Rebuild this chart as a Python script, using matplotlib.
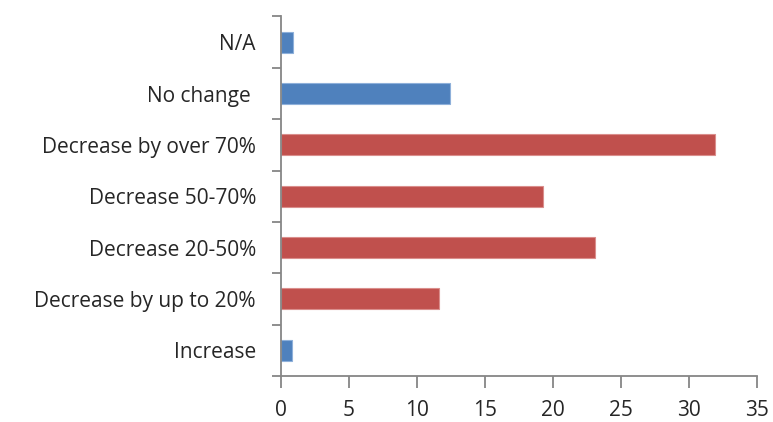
import matplotlib.pyplot as plt
import numpy as np

CATEGORIES = ['Increase', 'Decrease by up to 20%', 'Decrease 20-50%',
              'Decrease 50-70%', 'Decrease by over 70%', 'No change ', 'N/A']
VALUES = [0.8, 11.6, 23.1, 19.3, 31.9, 12.45, 0.9]
GROUP = ['other', 'decrease', 'decrease', 'decrease', 'decrease', 'other', 'other']
XTICKS = [0, 5, 10, 15, 20, 25, 30, 35]

COLORS = {'other': '#4F81BD', 'decrease': '#C0504D'}
EDGES = {'other': '#8EB0DA', 'decrease': '#DA8E8C'}
AXIS_GRAY = '#868686'

plt.rcParams['font.family'] = ['Open Sans', 'DejaVu Sans']

fig = plt.figure(figsize=(7.73, 4.22), dpi=100)
ax = fig.add_axes([0.3635, 0.109, 0.6155, 0.852])

y = np.arange(len(CATEGORIES))
ax.barh(y, VALUES, height=0.41,
        color=[COLORS[g] for g in GROUP],
        edgecolor=[EDGES[g] for g in GROUP], linewidth=0.8, zorder=2)

ax.set_xlim(0, 35)
ax.set_ylim(-0.5, len(CATEGORIES) - 0.5)
ax.set_xticks(XTICKS)
ax.set_xticklabels([str(t) for t in XTICKS], fontsize=15, color='#262626')
ax.set_yticks(y)
ax.set_yticklabels(CATEGORIES, fontsize=15, color='#262626')
ax.set_yticks(np.arange(len(CATEGORIES) + 1) - 0.5, minor=True)

ax.tick_params(axis='y', which='major', length=0, pad=18)
ax.tick_params(axis='y', which='minor', length=6.5, width=1.3, color=AXIS_GRAY)
ax.tick_params(axis='x', which='major', length=8.5, width=1.3, color=AXIS_GRAY, pad=9)

for side in ['top', 'right']:
    ax.spines[side].set_visible(False)
for side in ['left', 'bottom']:
    ax.spines[side].set_color(AXIS_GRAY)
    ax.spines[side].set_linewidth(1.3)

fig.savefig('out.png', dpi=100)
